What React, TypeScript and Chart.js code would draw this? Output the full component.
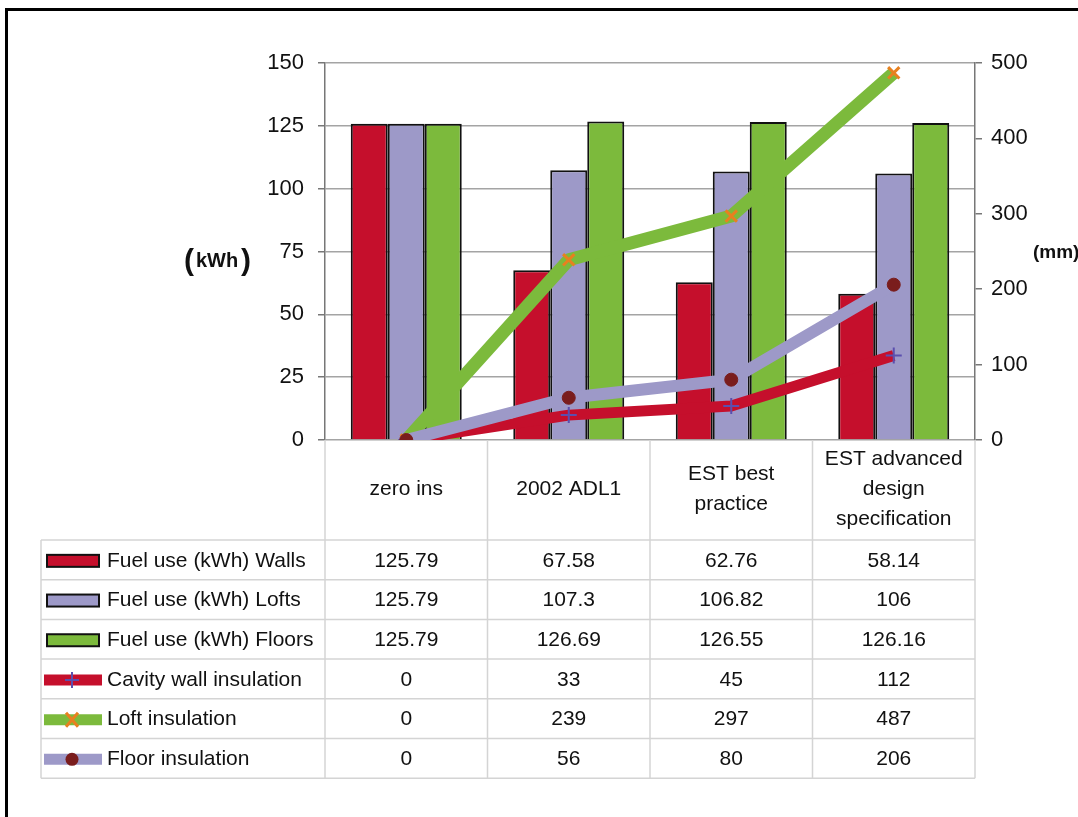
import React, { useEffect, useRef } from "react";
import { Chart, registerables } from "chart.js";

Chart.register(...registerables);

const categories = ["zero ins", "2002 ADL1", "EST best practice", "EST advanced design specification"];
const headerLines = [["zero ins"], ["2002 ADL1"], ["EST best", "practice"], ["EST advanced", "design", "specification"]];

const fuelWalls = [125.79, 67.58, 62.76, 58.14];
const fuelLofts = [125.79, 107.3, 106.82, 106];
const fuelFloors = [125.79, 126.69, 126.55, 126.16];
const cavityWall = [0, 33, 45, 112];
const loftIns = [0, 239, 297, 487];
const floorIns = [0, 56, 80, 206];

const wallsLabels = ["125.79", "67.58", "62.76", "58.14"];
const loftsLabels = ["125.79", "107.3", "106.82", "106"];
const floorsLabels = ["125.79", "126.69", "126.55", "126.16"];

const RED = "#c50f2c";
const LAV = "#9d99c8";
const GREEN = "#7cba3c";
const FONT = '"Liberation Sans", Arial, sans-serif';

const seriesInfo = [
  { label: "Fuel use (kWh) Walls", kind: "bar", color: RED, data: wallsLabels },
  { label: "Fuel use (kWh) Lofts", kind: "bar", color: LAV, data: loftsLabels },
  { label: "Fuel use (kWh) Floors", kind: "bar", color: GREEN, data: floorsLabels },
  { label: "Cavity wall insulation", kind: "cavity", color: RED, data: cavityWall.map(String) },
  { label: "Loft insulation", kind: "loft", color: GREEN, data: loftIns.map(String) },
  { label: "Floor insulation", kind: "floor", color: LAV, data: floorIns.map(String) },
];

const tablePlugin = {
  id: "tablePlugin",
  beforeDraw(chart: any) {
    const ctx = chart.ctx;
    ctx.save();
    ctx.fillStyle = "#ffffff";
    ctx.fillRect(0, 0, chart.width, chart.height);
    ctx.fillStyle = "#000000";
    ctx.fillRect(5, 8, 3, chart.height);
    ctx.fillRect(5, 8, chart.width, 3);
    ctx.restore();
  },
  afterDraw(chart: any) {
    const ctx = chart.ctx;
    const area = chart.chartArea;
    const xs = chart.scales.x;
    const n = categories.length;
    const half = (area.right - area.left) / n / 2;
    const centers = categories.map((_, i) => xs.getPixelForValue(i));
    const bounds = [area.left, ...centers.map((c) => c + half)];
    const headerBottom = area.bottom + 100;
    const rowH = 39.7;
    const tableLeft = 41;
    const tableBottom = headerBottom + rowH * 6;

    ctx.save();
    ctx.strokeStyle = "#d4d4d4";
    ctx.lineWidth = 1.5;
    bounds.forEach((bx) => {
      ctx.beginPath();
      ctx.moveTo(bx, area.bottom);
      ctx.lineTo(bx, tableBottom);
      ctx.stroke();
    });
    ctx.beginPath();
    ctx.moveTo(tableLeft, headerBottom);
    ctx.lineTo(tableLeft, tableBottom);
    ctx.stroke();
    for (let r = 0; r <= 6; r++) {
      const y = headerBottom + r * rowH;
      ctx.beginPath();
      ctx.moveTo(tableLeft, y);
      ctx.lineTo(area.right, y);
      ctx.stroke();
    }

    ctx.fillStyle = "#111";
    ctx.font = `21px ${FONT}`;
    ctx.textAlign = "center";
    ctx.textBaseline = "middle";
    const hc = area.bottom + 49;
    headerLines.forEach((lines, i) => {
      const lh = 30;
      const start = hc - ((lines.length - 1) * lh) / 2;
      lines.forEach((t, j) => ctx.fillText(t, centers[i], start + j * lh));
    });

    seriesInfo.forEach((s, r) => {
      const cy = headerBottom + r * rowH + rowH / 2 + 1;
      if (s.kind === "bar") {
        ctx.fillStyle = s.color;
        ctx.fillRect(47, cy - 6, 52, 12);
        ctx.strokeStyle = "#111";
        ctx.lineWidth = 2;
        ctx.strokeRect(47, cy - 6, 52, 12);
      } else {
        ctx.strokeStyle = s.color;
        ctx.lineWidth = 11;
        ctx.lineCap = "butt";
        ctx.beginPath();
        ctx.moveTo(44, cy);
        ctx.lineTo(102, cy);
        ctx.stroke();
        const mx = 72;
        if (s.kind === "cavity") {
          ctx.strokeStyle = "#5b4fae";
          ctx.lineWidth = 2;
          ctx.beginPath();
          ctx.moveTo(mx - 7, cy);
          ctx.lineTo(mx + 7, cy);
          ctx.moveTo(mx, cy - 8);
          ctx.lineTo(mx, cy + 8);
          ctx.stroke();
        } else if (s.kind === "loft") {
          ctx.strokeStyle = "#e8801f";
          ctx.lineWidth = 3;
          ctx.beginPath();
          ctx.moveTo(mx - 6, cy - 7);
          ctx.lineTo(mx + 6, cy + 7);
          ctx.moveTo(mx + 6, cy - 7);
          ctx.lineTo(mx - 6, cy + 7);
          ctx.stroke();
        } else {
          ctx.fillStyle = "#7a1d1d";
          ctx.beginPath();
          ctx.arc(mx, cy, 6.5, 0, Math.PI * 2);
          ctx.fill();
        }
      }
      ctx.fillStyle = "#111";
      ctx.font = `21px ${FONT}`;
      ctx.textAlign = "left";
      ctx.fillText(s.label, 107, cy);
      ctx.textAlign = "center";
      s.data.forEach((v, i) => ctx.fillText(v, centers[i], cy));
    });

    ctx.fillStyle = "#111";
    ctx.textAlign = "left";
    ctx.textBaseline = "alphabetic";
    const ty = 267;
    ctx.font = `bold 30px ${FONT}`;
    ctx.fillText("(", 184, ty + 3);
    ctx.font = `bold 20px ${FONT}`;
    ctx.fillText("kWh", 196, ty);
    ctx.font = `bold 30px ${FONT}`;
    ctx.fillText(")", 241, ty + 3);
    ctx.font = `bold 19px ${FONT}`;
    ctx.fillText("(mm)", 1033, 258);
    ctx.restore();
  },
};

export default function App() {
  const ref = useRef<HTMLCanvasElement | null>(null);
  useEffect(() => {
    if (!ref.current) return;
    const common = { categoryPercentage: 0.683, barPercentage: 1, borderColor: "#111", borderWidth: 2, yAxisID: "y" };
    const chart = new Chart(ref.current, {
      type: "bar",
      data: {
        labels: categories,
        datasets: [
          { ...common, type: "bar", label: "Fuel use (kWh) Walls", data: fuelWalls, backgroundColor: RED, order: 4 } as any,
          { ...common, type: "bar", label: "Fuel use (kWh) Lofts", data: fuelLofts, backgroundColor: LAV, order: 5 } as any,
          { ...common, type: "bar", label: "Fuel use (kWh) Floors", data: fuelFloors, backgroundColor: GREEN, order: 6 } as any,
          {
            type: "line", label: "Cavity wall insulation", data: cavityWall, yAxisID: "y1", order: 3,
            borderColor: RED, borderWidth: 11, tension: 0, borderJoinStyle: "round",
            pointStyle: "cross", pointRadius: 8, pointBorderColor: "#5b4fae", pointBorderWidth: 2, pointBackgroundColor: "#5b4fae",
          } as any,
          {
            type: "line", label: "Loft insulation", data: loftIns, yAxisID: "y1", order: 2,
            borderColor: GREEN, borderWidth: 13, tension: 0, borderJoinStyle: "round",
            pointStyle: "crossRot", pointRadius: 8, pointBorderColor: "#e8801f", pointBorderWidth: 3,
          } as any,
          {
            type: "line", label: "Floor insulation", data: floorIns, yAxisID: "y1", order: 1,
            borderColor: LAV, borderWidth: 12, tension: 0, borderJoinStyle: "round",
            pointStyle: "circle", pointRadius: 6.5, pointBorderColor: "#7a1d1d", pointBackgroundColor: "#7a1d1d", pointBorderWidth: 1,
          } as any,
        ],
      },
      options: {
        responsive: false,
        animation: false,
        layout: { padding: { top: 63, bottom: 377, left: 0, right: 0 } },
        plugins: { legend: { display: false }, tooltip: { enabled: false } },
        scales: {
          x: { type: "category", display: false, offset: true },
          y: {
            position: "left", min: 0, max: 150,
            ticks: { stepSize: 25, padding: 14, color: "#111", font: { family: FONT, size: 22 } },
            grid: { color: "#a4a4a4", lineWidth: 1.5, tickLength: 7, tickColor: "#777" },
            border: { display: true, color: "#777", width: 1.5 },
            afterFit: (s: any) => { s.width = 325; },
          },
          y1: {
            position: "right", min: 0, max: 500,
            ticks: { stepSize: 100, padding: 9, color: "#111", font: { family: FONT, size: 22 } },
            grid: { drawOnChartArea: false, tickLength: 7, tickColor: "#777", lineWidth: 1.5 },
            border: { display: true, color: "#777", width: 1.5 },
            afterFit: (s: any) => { s.width = 103; },
          },
        },
      } as any,
      plugins: [tablePlugin],
    });
    return () => chart.destroy();
  }, []);
  return (
    <div style={{ position: "fixed", left: 0, top: 0, width: 1078, height: 817, background: "#fff" }}>
      <canvas ref={ref} width={1078} height={817} style={{ display: "block" }} />
    </div>
  );
}
